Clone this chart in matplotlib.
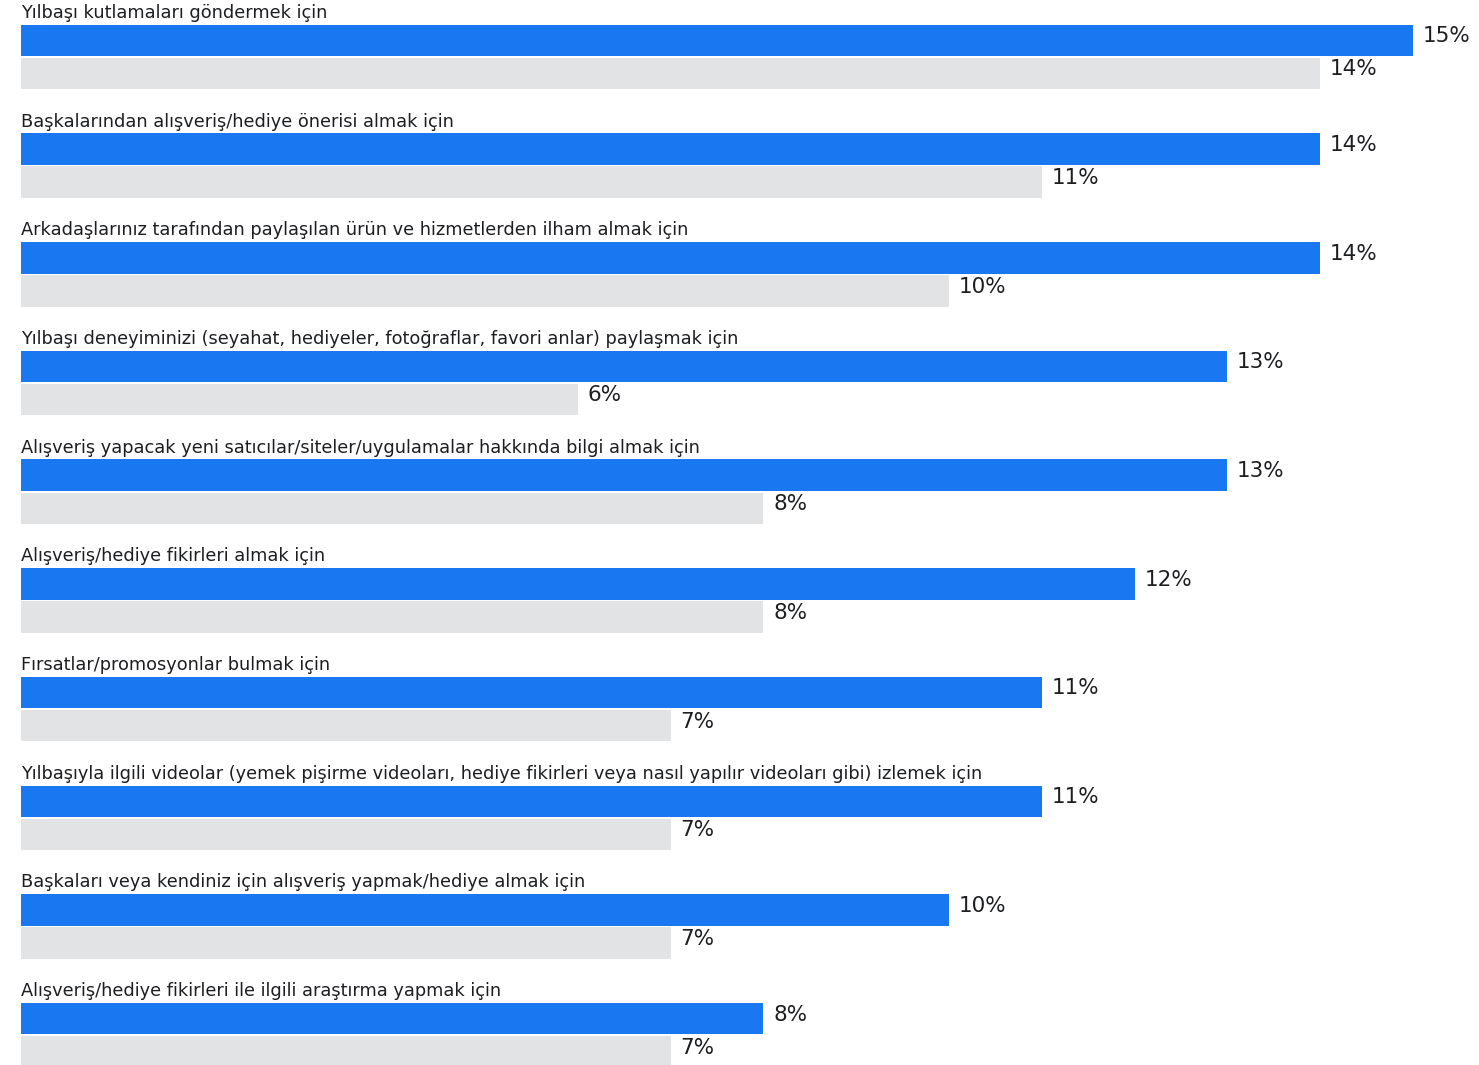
import numpy as np
import matplotlib.pyplot as plt

# survey answers, top to bottom
categories = [
    "Yılbaşı kutlamaları göndermek için",
    "Başkalarından alışveriş/hediye önerisi almak için",
    "Arkadaşlarınız tarafından paylaşılan ürün ve hizmetlerden ilham almak için",
    "Yılbaşı deneyiminizi (seyahat, hediyeler, fotoğraflar, favori anlar) paylaşmak için",
    "Alışveriş yapacak yeni satıcılar/siteler/uygulamalar hakkında bilgi almak için",
    "Alışveriş/hediye fikirleri almak için",
    "Fırsatlar/promosyonlar bulmak için",
    "Yılbaşıyla ilgili videolar (yemek pişirme videoları, hediye fikirleri veya nasıl yapılır videoları gibi) izlemek için",
    "Başkaları veya kendiniz için alışveriş yapmak/hediye almak için",
    "Alışveriş/hediye fikirleri ile ilgili araştırma yapmak için",
]
blue_vals = [15, 14, 14, 13, 13, 12, 11, 11, 10, 8]
gray_vals = [14, 11, 10, 6, 8, 8, 7, 7, 7, 7]

BLUE = "#1a77f2"
GRAY = "#e2e3e5"
TEXT = "#1c1e21"

fig = plt.figure(figsize=(14.79, 10.65), dpi=100)
ax = fig.add_axes([21 / 1479, 0, 1 - 21 / 1479, 1])

y = np.arange(len(categories))
h = 0.29
off = 0.152

ax.barh(y - off, blue_vals, height=h, color=BLUE)
ax.barh(y + off, gray_vals, height=h, color=GRAY)

ax.set_xlim(0, 1458 / 92.8)
ax.set_ylim(-0.524 + 1065 / 108.7, -0.524)
ax.axis("off")

for i, (cat, b, g) in enumerate(zip(categories, blue_vals, gray_vals)):
    ax.annotate(cat, (0, i - off - h / 2), xytext=(0, 2), textcoords="offset points",
                ha="left", va="bottom", fontsize=12.8, color=TEXT)
    ax.annotate(f"{b}%", (b, i - off), xytext=(7, 3), textcoords="offset points",
                ha="left", va="center", fontsize=15.5, color=TEXT)
    ax.annotate(f"{g}%", (g, i + off), xytext=(7, 3), textcoords="offset points",
                ha="left", va="center", fontsize=15.5, color=TEXT)

fig.savefig("out.png", dpi=100)
